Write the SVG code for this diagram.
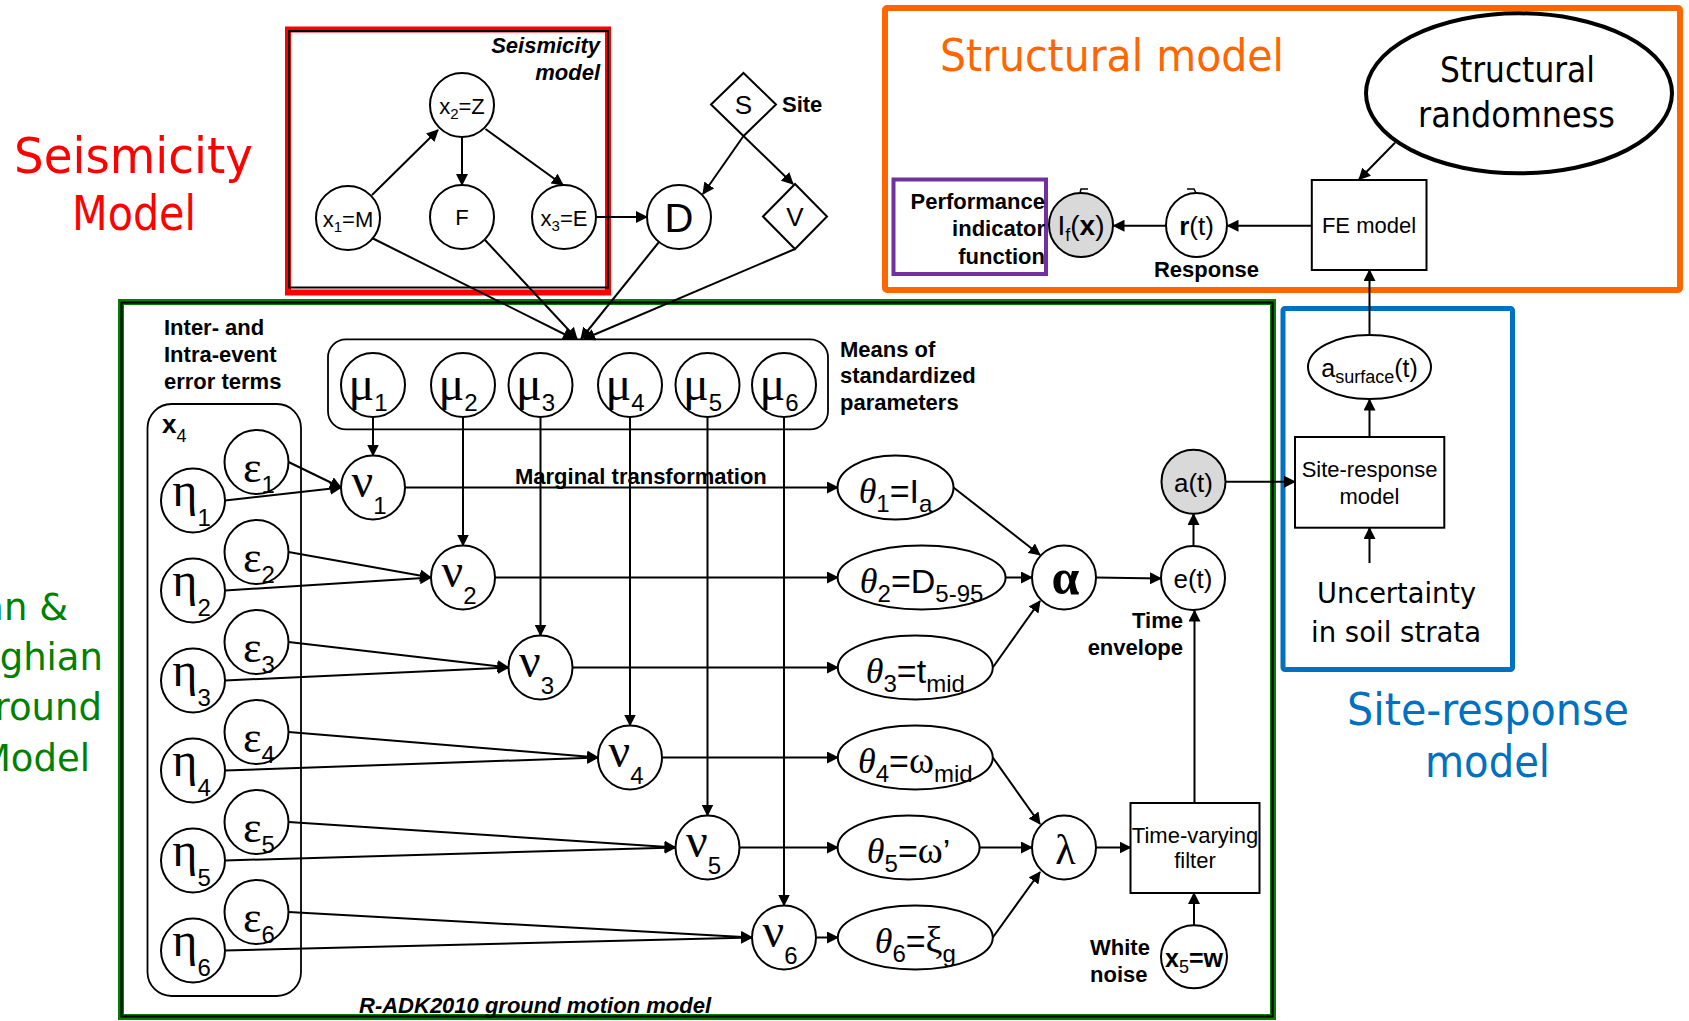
<svg xmlns="http://www.w3.org/2000/svg" width="1689" height="1021" viewBox="0 0 1689 1021">
<defs>
  <marker id="ah" markerWidth="13" markerHeight="12" refX="11" refY="6" orient="auto" markerUnits="userSpaceOnUse">
    <path d="M0,0 L12,6 L0,12 z" fill="#000"/>
  </marker>
  <style>
    .n { fill: #fff; stroke: #000; stroke-width: 2; }
    .gy { fill: #d9d9d9; stroke: #000; stroke-width: 2; }
    .box { fill: #fff; stroke: #000; stroke-width: 2; }
    .frame { fill: none; }
    .c { fill: none; stroke: #000; stroke-width: 2; marker-end: url(#ah); }
    .ln { fill: none; stroke: #000; stroke-width: 1.5; }
    .sans { font-family: "Liberation Sans", Arial, sans-serif; }
    .lab { font-family: "Liberation Sans", Arial, sans-serif; font-weight: bold; font-size: 22px; }
    .bi { font-family: "Liberation Sans", Arial, sans-serif; font-weight: bold; font-style: italic; font-size: 22px; }
    .gr { font-family: "Liberation Serif", "Times New Roman", serif; }
    .big { font-family: "DejaVu Sans", Verdana, sans-serif; }
    .node { font-family: "Liberation Sans", Arial, sans-serif; font-size: 22px; }
    .grk { font-family: "Liberation Serif", "Times New Roman", serif; font-size: 44px; }
    .grl { font-family: "Liberation Serif", "Times New Roman", serif; font-size: 48px; }
    .sub { font-family: "Liberation Sans", Arial, sans-serif; font-size: 24px; }
    .th { font-family: "Liberation Sans", Arial, sans-serif; font-size: 34px; }
    .ths { font-size: 24px; }
  </style>
</defs>
<rect width="1689" height="1021" fill="#fff"/>

<!-- model frames -->
<g id="frames">
  <rect class="frame" x="288" y="29.5" width="320" height="263" stroke="#ff0000" stroke-width="6"/>
  <rect class="frame" x="289" y="31" width="319" height="256.5" stroke="#000" stroke-width="2"/>
  <rect class="frame" x="121" y="302" width="1152" height="715" stroke="#008000" stroke-width="6"/>
  <rect class="frame" x="121.5" y="302.5" width="1151" height="714" stroke="#000" stroke-width="2.2"/>
  <rect class="frame" x="885" y="8" width="795" height="282" rx="2" stroke="#ff6600" stroke-width="6"/>
  <rect class="frame" x="1283" y="308.5" width="229.5" height="361" rx="2" stroke="#0070c0" stroke-width="5"/>
  <rect class="frame" x="893.5" y="179.5" width="152.5" height="94.5" stroke="#7030a0" stroke-width="4"/>
  <rect class="frame" x="328" y="339.3" width="500" height="90" rx="18" stroke="#000" stroke-width="1.8"/>
  <rect class="frame" x="147.5" y="404" width="153.5" height="592" rx="24" stroke="#000" stroke-width="1.8"/>
</g>

<!-- section titles -->
<g id="titles">
  <text class="big" x="14" y="173" font-size="50" fill="#ff0000" textLength="239" lengthAdjust="spacingAndGlyphs">Seismicity</text>
  <text class="big" x="72" y="230" font-size="48" fill="#ff0000" textLength="124" lengthAdjust="spacingAndGlyphs">Model</text>
  <g fill="#008000" font-size="37" text-anchor="end" class="big">
    <text x="68" y="620">an &amp;</text>
    <text x="103" y="670">eghian</text>
    <text x="102" y="720">round</text>
    <text x="90" y="771">Model</text>
  </g>
  <text class="big" x="940" y="71" font-size="45" fill="#ff6600" textLength="344" lengthAdjust="spacingAndGlyphs">Structural model</text>
  <text class="big" x="1347" y="725" font-size="44" fill="#0070c0" textLength="282" lengthAdjust="spacingAndGlyphs">Site-response</text>
  <text class="big" x="1425" y="777" font-size="44" fill="#0070c0" textLength="125" lengthAdjust="spacingAndGlyphs">model</text>
  <text class="bi" x="600" y="53" text-anchor="end">Seismicity</text>
  <text class="bi" x="600" y="80" text-anchor="end">model</text>
  <text class="bi" x="359" y="1013">R-ADK2010 ground motion model</text>
</g>

<!-- connectors -->
<g id="connectors">
  <path class="c" d="M372,195 L438,130"/>
  <path class="c" d="M462,137 L462,185"/>
  <path class="c" d="M485.5,129 L563,185"/>
  <path class="c" d="M596,217 L647,217"/>
  <path class="c" d="M743.5,136 L703,194"/>
  <path class="c" d="M743.5,136 L793,184"/>
  <path class="c" d="M372,238 L574,339"/>
  <path class="c" d="M485,240 L577,339"/>
  <path class="c" d="M659,242 L581,339"/>
  <path class="c" d="M795,249 L584,339"/>
  <!-- means to standardized variables -->
  <path class="c" d="M373,417 L373,455.5"/>
  <path class="c" d="M463,417 L463,545.5"/>
  <path class="c" d="M540.5,417 L540.5,635.5"/>
  <path class="c" d="M630,417 L630,725.5"/>
  <path class="c" d="M707.5,417 L707.5,815.5"/>
  <path class="c" d="M784,417 L784,905.5"/>
  <!-- error terms to standardized variables -->
  <path class="c" d="M288.5,462 L341,487.5"/>
  <path class="c" d="M225,500.5 L341,487.5"/>
  <path class="c" d="M288.5,552 L431,577.5"/>
  <path class="c" d="M225,590.5 L431,577.5"/>
  <path class="c" d="M288.5,642 L508.5,667.5"/>
  <path class="c" d="M225,680.5 L508.5,667.5"/>
  <path class="c" d="M288.5,732 L598,757.5"/>
  <path class="c" d="M225,770.5 L598,757.5"/>
  <path class="c" d="M288.5,822 L675.5,847.5"/>
  <path class="c" d="M225,860.5 L675.5,847.5"/>
  <path class="c" d="M288.5,912 L752,937.5"/>
  <path class="c" d="M225,950.5 L752,937.5"/>
  <!-- marginal transformations -->
  <path class="c" d="M405,487.5 L838,487.5"/>
  <path class="c" d="M495,577.5 L838,577.5"/>
  <path class="c" d="M572.5,667.5 L838,667.5"/>
  <path class="c" d="M662,757.5 L838,757.5"/>
  <path class="c" d="M739.5,847.5 L838,847.5"/>
  <path class="c" d="M816,937.5 L838,937.5"/>
  <!-- model parameters -->
  <path class="c" d="M953.5,487.5 L1040,555"/>
  <path class="c" d="M1005.5,577.5 L1032,577.5"/>
  <path class="c" d="M992.8,667.5 L1040,601"/>
  <path class="c" d="M992.8,757.5 L1040,824"/>
  <path class="c" d="M979.5,847.5 L1032,847.5"/>
  <path class="c" d="M992.8,937.5 L1040,872"/>
  <path class="c" d="M1096,577.5 L1161,578.5"/>
  <path class="c" d="M1193.5,546 L1193.5,514"/>
  <path class="c" d="M1225.5,481.7 L1295,481.7"/>
  <path class="c" d="M1096,847.5 L1130.5,847.5"/>
  <path class="c" d="M1194.5,803 L1194.5,610.5"/>
  <path class="c" d="M1194,925 L1194,893"/>
  <!-- site response and structure -->
  <path class="c" d="M1369.5,563 L1369.5,528"/>
  <path class="c" d="M1369.5,437 L1369.5,399.5"/>
  <path class="c" d="M1369.5,335 L1369.5,270"/>
  <path class="c" d="M1395,142.7 L1359,179.5"/>
  <path class="c" d="M1311.8,225.7 L1227.5,225.7"/>
  <path class="c" d="M1166,225.7 L1113.5,225.7"/>
</g>

<!-- seismicity nodes -->
<g id="node-x2">
  <ellipse class="n" cx="462" cy="105" rx="32" ry="32"/>
  <text class="node" x="462" y="114" text-anchor="middle">x<tspan font-size="15" dy="5">2</tspan><tspan dy="-5">=Z</tspan></text>
</g>
<g id="node-x1">
  <ellipse class="n" cx="348" cy="218" rx="32" ry="32"/>
  <text class="node" x="348" y="227" text-anchor="middle">x<tspan font-size="15" dy="5">1</tspan><tspan dy="-5">=M</tspan></text>
</g>
<g id="node-F">
  <ellipse class="n" cx="462" cy="217" rx="32" ry="32"/>
  <text class="node" x="462" y="225" text-anchor="middle">F</text>
</g>
<g id="node-x3">
  <ellipse class="n" cx="564" cy="217" rx="32" ry="32"/>
  <text class="node" x="564" y="226" text-anchor="middle">x<tspan font-size="15" dy="5">3</tspan><tspan dy="-5">=E</tspan></text>
</g>
<g id="node-D">
  <ellipse class="n" cx="679" cy="217" rx="32" ry="32"/>
  <text class="sans" x="679" y="232" font-size="40" text-anchor="middle">D</text>
</g>
<g id="node-S">
  <path class="n" d="M743.5,73 L776,104.5 L743.5,136 L711,104.5 z"/>
  <text class="sans" x="743.5" y="114" font-size="26" text-anchor="middle">S</text>
  <text class="lab" x="782" y="112">Site</text>
</g>
<g id="node-V">
  <path class="n" d="M795,184 L827,216.5 L795,249 L763,216.5 z"/>
  <text class="sans" x="795" y="226" font-size="26" text-anchor="middle">V</text>
</g>

<!-- error terms -->
<g id="error-terms">
  <text class="lab" x="164" y="335">Inter- and</text>
  <text class="lab" x="164" y="362">Intra-event</text>
  <text class="lab" x="164" y="389">error terms</text>
  <text class="sans" x="162" y="433" font-size="26" font-weight="bold">x<tspan font-size="18" font-weight="normal" dy="9">4</tspan></text>
</g>
<g id="node-eps1"><ellipse class="n" cx="256.5" cy="462" rx="32" ry="32"/><text x="259" y="482" text-anchor="middle"><tspan class="grk">ε</tspan><tspan class="sub" dy="11">1</tspan></text></g>
<g id="node-eps2"><ellipse class="n" cx="256.5" cy="552" rx="32" ry="32"/><text x="259" y="572" text-anchor="middle"><tspan class="grk">ε</tspan><tspan class="sub" dy="11">2</tspan></text></g>
<g id="node-eps3"><ellipse class="n" cx="256.5" cy="642" rx="32" ry="32"/><text x="259" y="662" text-anchor="middle"><tspan class="grk">ε</tspan><tspan class="sub" dy="11">3</tspan></text></g>
<g id="node-eps4"><ellipse class="n" cx="256.5" cy="732" rx="32" ry="32"/><text x="259" y="752" text-anchor="middle"><tspan class="grk">ε</tspan><tspan class="sub" dy="11">4</tspan></text></g>
<g id="node-eps5"><ellipse class="n" cx="256.5" cy="822" rx="32" ry="32"/><text x="259" y="842" text-anchor="middle"><tspan class="grk">ε</tspan><tspan class="sub" dy="11">5</tspan></text></g>
<g id="node-eps6"><ellipse class="n" cx="256.5" cy="912" rx="32" ry="32"/><text x="259" y="932" text-anchor="middle"><tspan class="grk">ε</tspan><tspan class="sub" dy="11">6</tspan></text></g>

<g id="node-eta1"><ellipse class="n" cx="193" cy="500.5" rx="32" ry="32"/><text x="191.5" y="506" text-anchor="middle"><tspan class="grl">η</tspan><tspan class="sub" dy="20">1</tspan></text></g>
<g id="node-eta2"><ellipse class="n" cx="193" cy="590.5" rx="32" ry="32"/><text x="191.5" y="596" text-anchor="middle"><tspan class="grl">η</tspan><tspan class="sub" dy="20">2</tspan></text></g>
<g id="node-eta3"><ellipse class="n" cx="193" cy="680.5" rx="32" ry="32"/><text x="191.5" y="686" text-anchor="middle"><tspan class="grl">η</tspan><tspan class="sub" dy="20">3</tspan></text></g>
<g id="node-eta4"><ellipse class="n" cx="193" cy="770.5" rx="32" ry="32"/><text x="191.5" y="776" text-anchor="middle"><tspan class="grl">η</tspan><tspan class="sub" dy="20">4</tspan></text></g>
<g id="node-eta5"><ellipse class="n" cx="193" cy="860.5" rx="32" ry="32"/><text x="191.5" y="866" text-anchor="middle"><tspan class="grl">η</tspan><tspan class="sub" dy="20">5</tspan></text></g>
<g id="node-eta6"><ellipse class="n" cx="193" cy="950.5" rx="32" ry="32"/><text x="191.5" y="956" text-anchor="middle"><tspan class="grl">η</tspan><tspan class="sub" dy="20">6</tspan></text></g>

<!-- means of standardized parameters -->
<g id="means-label">
  <text class="lab" x="840" y="357">Means of</text>
  <text class="lab" x="840" y="383">standardized</text>
  <text class="lab" x="840" y="410">parameters</text>
</g>
<g id="node-mu1"><ellipse class="n" cx="373" cy="385" rx="32" ry="32"/><text x="368" y="400" text-anchor="middle"><tspan class="grl">μ</tspan><tspan class="sub" dy="11">1</tspan></text></g>
<g id="node-mu2"><ellipse class="n" cx="463" cy="385" rx="32" ry="32"/><text x="458" y="400" text-anchor="middle"><tspan class="grl">μ</tspan><tspan class="sub" dy="11">2</tspan></text></g>
<g id="node-mu3"><ellipse class="n" cx="540.5" cy="385" rx="32" ry="32"/><text x="535.5" y="400" text-anchor="middle"><tspan class="grl">μ</tspan><tspan class="sub" dy="11">3</tspan></text></g>
<g id="node-mu4"><ellipse class="n" cx="630" cy="385" rx="32" ry="32"/><text x="625" y="400" text-anchor="middle"><tspan class="grl">μ</tspan><tspan class="sub" dy="11">4</tspan></text></g>
<g id="node-mu5"><ellipse class="n" cx="707.5" cy="385" rx="32" ry="32"/><text x="702.5" y="400" text-anchor="middle"><tspan class="grl">μ</tspan><tspan class="sub" dy="11">5</tspan></text></g>
<g id="node-mu6"><ellipse class="n" cx="784" cy="385" rx="32" ry="32"/><text x="779" y="400" text-anchor="middle"><tspan class="grl">μ</tspan><tspan class="sub" dy="11">6</tspan></text></g>

<!-- standardized variables -->
<g id="node-nu1"><ellipse class="n" cx="373" cy="487.5" rx="32" ry="32"/><text x="369" y="497" text-anchor="middle"><tspan class="grl">ν</tspan><tspan class="sub" dy="17">1</tspan></text></g>
<g id="node-nu2"><ellipse class="n" cx="463" cy="577.5" rx="32" ry="32"/><text x="459" y="587" text-anchor="middle"><tspan class="grl">ν</tspan><tspan class="sub" dy="17">2</tspan></text></g>
<g id="node-nu3"><ellipse class="n" cx="540.5" cy="667.5" rx="32" ry="32"/><text x="536.5" y="677" text-anchor="middle"><tspan class="grl">ν</tspan><tspan class="sub" dy="17">3</tspan></text></g>
<g id="node-nu4"><ellipse class="n" cx="630" cy="757.5" rx="32" ry="32"/><text x="626" y="767" text-anchor="middle"><tspan class="grl">ν</tspan><tspan class="sub" dy="17">4</tspan></text></g>
<g id="node-nu5"><ellipse class="n" cx="707.5" cy="847.5" rx="32" ry="32"/><text x="703.5" y="857" text-anchor="middle"><tspan class="grl">ν</tspan><tspan class="sub" dy="17">5</tspan></text></g>
<g id="node-nu6"><ellipse class="n" cx="784" cy="937.5" rx="32" ry="32"/><text x="780" y="947" text-anchor="middle"><tspan class="grl">ν</tspan><tspan class="sub" dy="17">6</tspan></text></g>

<text class="lab" x="515" y="484">Marginal transformation</text>

<!-- model parameters -->
<g id="node-theta1"><ellipse class="n" cx="895.5" cy="487.5" rx="58" ry="32"/>
  <text class="th" x="895.5" y="502.5" text-anchor="middle"><tspan class="gr" font-style="italic" font-size="36">θ</tspan><tspan class="ths" dy="9">1</tspan><tspan dy="-9">=I</tspan><tspan class="ths" dy="9">a</tspan></text></g>
<g id="node-theta2"><ellipse class="n" cx="921.6" cy="577.5" rx="84" ry="32"/>
  <text class="th" x="921.6" y="592.5" text-anchor="middle"><tspan class="gr" font-style="italic" font-size="36">θ</tspan><tspan class="ths" dy="9">2</tspan><tspan dy="-9">=D</tspan><tspan class="ths" dy="9">5-95</tspan></text></g>
<g id="node-theta3"><ellipse class="n" cx="915.3" cy="667.5" rx="77.5" ry="32"/>
  <text class="th" x="915.3" y="682.5" text-anchor="middle"><tspan class="gr" font-style="italic" font-size="36">θ</tspan><tspan class="ths" dy="9">3</tspan><tspan dy="-9">=t</tspan><tspan class="ths" dy="9">mid</tspan></text></g>
<g id="node-theta4"><ellipse class="n" cx="915.3" cy="757.5" rx="77.5" ry="32"/>
  <text class="th" x="915.3" y="772.5" text-anchor="middle"><tspan class="gr" font-style="italic" font-size="36">θ</tspan><tspan class="ths" dy="9">4</tspan><tspan dy="-9">=</tspan><tspan class="gr" font-size="38">ω</tspan><tspan class="ths" dy="9">mid</tspan></text></g>
<g id="node-theta5"><ellipse class="n" cx="908.6" cy="847.5" rx="71" ry="32"/>
  <text class="th" x="908.6" y="862.5" text-anchor="middle"><tspan class="gr" font-style="italic" font-size="36">θ</tspan><tspan class="ths" dy="9">5</tspan><tspan dy="-9">=</tspan><tspan class="gr" font-size="38">ω</tspan>’</text></g>
<g id="node-theta6"><ellipse class="n" cx="915.3" cy="937.5" rx="77.5" ry="32"/>
  <text class="th" x="915.3" y="952.5" text-anchor="middle"><tspan class="gr" font-style="italic" font-size="36">θ</tspan><tspan class="ths" dy="9">6</tspan><tspan dy="-9">=</tspan><tspan class="gr" font-size="38">ξ</tspan><tspan class="ths" dy="9">g</tspan></text></g>

<g id="node-alpha"><ellipse class="n" cx="1064" cy="577.5" rx="32" ry="32"/>
  <text class="gr" x="1065.5" y="594" font-size="50" font-weight="bold" text-anchor="middle">α</text></g>
<g id="node-lambda"><ellipse class="n" cx="1064" cy="847.5" rx="32" ry="32"/>
  <text class="gr" x="1065.5" y="864" font-size="42" text-anchor="middle">λ</text></g>

<g id="node-et"><ellipse class="n" cx="1193" cy="578" rx="32" ry="32"/>
  <text class="sans" x="1193" y="588" font-size="26" text-anchor="middle">e(t)</text></g>
<g id="node-at"><ellipse class="gy" cx="1193.5" cy="481.7" rx="32" ry="32"/>
  <text class="sans" x="1193.5" y="491.5" font-size="26" text-anchor="middle">a(t)</text></g>
<text class="lab" x="1183" y="628" text-anchor="end">Time</text>
<text class="lab" x="1183" y="655" text-anchor="end">envelope</text>

<g id="node-filter"><rect class="box" x="1130.5" y="803" width="129" height="90"/>
  <text class="node" x="1195" y="843" text-anchor="middle">Time-varying</text>
  <text class="node" x="1195" y="868" text-anchor="middle">filter</text></g>
<g id="node-x5"><ellipse class="n" cx="1194" cy="956.7" rx="33" ry="31.5"/>
  <text class="sans" x="1194" y="966.5" font-size="25" font-weight="bold" text-anchor="middle">x<tspan font-size="18" font-weight="normal" dy="6">5</tspan><tspan dy="-6">=w</tspan></text>
  <text class="lab" x="1090" y="955">White</text>
  <text class="lab" x="1090" y="982">noise</text></g>

<!-- site response -->
<g id="node-site-response"><rect class="box" x="1295" y="437" width="149.3" height="90.7"/>
  <text class="node" x="1369.5" y="477" text-anchor="middle">Site-response</text>
  <text class="node" x="1369.5" y="504" text-anchor="middle">model</text></g>
<g id="node-asurface"><ellipse class="n" cx="1369.5" cy="367" rx="61.5" ry="32"/>
  <text class="sans" x="1369.5" y="377" font-size="25" text-anchor="middle">a<tspan font-size="18" dy="6">surface</tspan><tspan dy="-6">(t)</tspan></text></g>
<g id="uncertainty-soil">
  <text class="big" x="1317" y="603" font-size="29" textLength="159" lengthAdjust="spacingAndGlyphs">Uncertainty</text>
  <text class="big" x="1311" y="642" font-size="29" textLength="170" lengthAdjust="spacingAndGlyphs">in soil strata</text>
</g>

<!-- structural model -->
<g id="node-randomness"><ellipse cx="1519" cy="93.3" rx="153" ry="80" fill="#fff" stroke="#000" stroke-width="4"/>
  <text class="big" x="1440" y="82" font-size="35" textLength="155" lengthAdjust="spacingAndGlyphs">Structural</text>
  <text class="big" x="1418" y="127" font-size="35" textLength="197" lengthAdjust="spacingAndGlyphs">randomness</text></g>
<g id="node-fe"><rect class="box" x="1311.8" y="180" width="114.7" height="90"/>
  <text class="node" x="1369" y="233" text-anchor="middle">FE model</text></g>
<g id="node-rt"><ellipse class="n" cx="1196.5" cy="225" rx="30.5" ry="32"/>
  <path class="ln" d="M1187,189 L1194,189 L1196,193"/>
  <text class="sans" x="1196.5" y="234.5" font-size="26" text-anchor="middle"><tspan font-weight="bold">r</tspan>(t)</text>
  <text class="lab" x="1206.5" y="277" text-anchor="middle">Response</text></g>
<g id="node-if"><ellipse class="gy" cx="1081" cy="225" rx="32" ry="32"/>
  <path class="ln" d="M1080,193 L1081,189 L1088,189"/>
  <text class="sans" x="1081" y="235" font-size="28" text-anchor="middle">I<tspan font-size="18" dy="6">f</tspan><tspan dy="-6">(</tspan><tspan font-weight="bold">x</tspan>)</text></g>
<g id="performance-label">
  <text class="lab" x="1045" y="208.5" text-anchor="end">Performance</text>
  <text class="lab" x="1045" y="236" text-anchor="end">indicator</text>
  <text class="lab" x="1045" y="263.5" text-anchor="end">function</text>
</g>
</svg>
